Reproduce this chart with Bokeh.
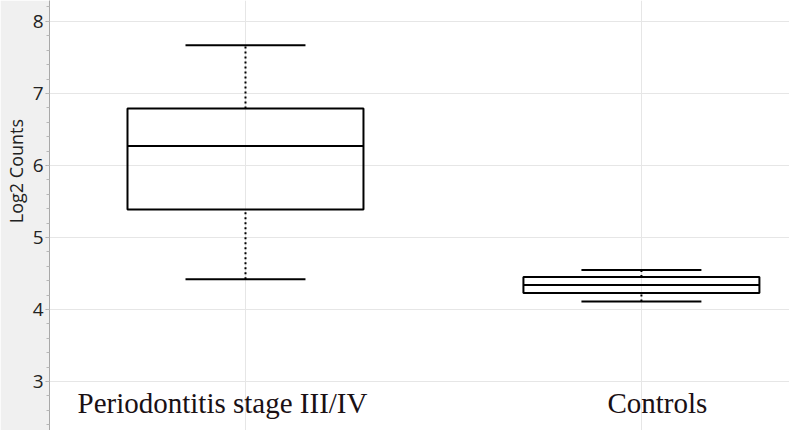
from bokeh.plotting import figure
from bokeh.models import ColumnDataSource, Range1d, SingleIntervalTicker, FixedTicker
from bokeh.core.properties import value
from bokeh.embed import file_html
from bokeh.resources import INLINE

categories = ["Periodontitis stage III/IV", "Controls"]
whisker_low = [4.42, 4.11]
q1 = [5.39, 4.23]
median = [6.27, 4.34]
q3 = [6.79, 4.45]
whisker_high = [7.67, 4.55]
y_title = "Log2 Counts"

xpos = list(range(len(categories)))
box_w = 0.596
cap_w = 0.303

p = figure(width=789, height=430, output_backend="svg", toolbar_location=None,
           x_range=Range1d(-0.495, 1.374), y_range=Range1d(2.32, 8.29),
           min_border_left=48, min_border_right=0, min_border_top=0, min_border_bottom=0)
p.xaxis.visible = False
p.outline_line_color = None
p.background_fill_color = "white"
p.border_fill_color = "#f0f0f0"

yax = p.yaxis[0]
yax.ticker = SingleIntervalTicker(interval=1, num_minor_ticks=5)
# leading non-breaking spaces shift the centred title upward, as in the reference
yax.axis_label = "\u00a0" * 19 + y_title
yax.axis_label_text_font = "Open Sans"
yax.axis_label_text_font_style = "normal"
yax.axis_label_text_font_size = "18px"
yax.axis_label_text_color = "#222222"
yax.axis_label_standoff = 2
yax.major_label_text_font = "Open Sans"
yax.major_label_text_font_size = "19px"
yax.major_label_text_color = "#222222"
yax.major_label_standoff = 2
yax.axis_line_color = "#a8a8a8"
yax.major_tick_line_color = "#a8a8a8"
yax.minor_tick_line_color = "#b8b8b8"
yax.major_tick_in = 0
yax.major_tick_out = 4
yax.minor_tick_in = 0
yax.minor_tick_out = 3

p.ygrid.grid_line_color = "#e6e6e6"
p.xgrid.ticker = FixedTicker(ticks=xpos)
p.xgrid.grid_line_color = "#e6e6e6"

src = ColumnDataSource(dict(
    x=xpos, cat=categories, lo=whisker_low, q1=q1, med=median, q3=q3, hi=whisker_high,
    bl=[x - box_w / 2 for x in xpos], br=[x + box_w / 2 for x in xpos],
    cl=[x - cap_w / 2 for x in xpos], cr=[x + cap_w / 2 for x in xpos],
))

# whisker stems (dotted)
p.segment(x0="x", y0="q3", x1="x", y1="hi", source=src, line_color="black",
          line_width=2, line_dash="2 3")
p.segment(x0="x", y0="lo", x1="x", y1="q1", source=src, line_color="black",
          line_width=2, line_dash="2 3")
# caps
p.segment(x0="cl", y0="hi", x1="cr", y1="hi", source=src, line_color="black", line_width=2)
p.segment(x0="cl", y0="lo", x1="cr", y1="lo", source=src, line_color="black", line_width=2)
# boxes
p.quad(left="bl", right="br", bottom="q1", top="q3", source=src,
       fill_color=None, line_color="black", line_width=2)
# median
p.segment(x0="bl", y0="med", x1="br", y1="med", source=src, line_color="black", line_width=2)

# category labels inside plot
label_y = 2.556
lab = ColumnDataSource(dict(x=xpos, y=[label_y] * len(xpos), t=categories, dx=[-23, 16]))
p.text(x="x", y="y", text="t", x_offset="dx", y_offset=-11, source=lab, text_align="center",
       text_baseline="alphabetic", text_font=value("Liberation Serif"),
       text_font_size="29px", text_color="#1a1014")

open("out.html", "w").write(file_html(p, INLINE))
